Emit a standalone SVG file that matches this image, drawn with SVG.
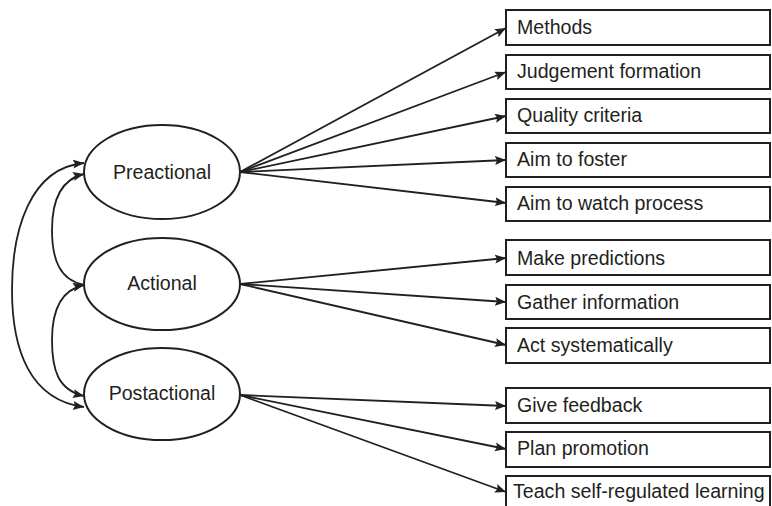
<svg xmlns="http://www.w3.org/2000/svg" width="772" height="506" viewBox="0 0 772 506">
  <style>
    .node ellipse, .node rect { fill: #ffffff; stroke: #231f20; stroke-width: 2; }
    .node text { font-family: "Liberation Sans", Arial, sans-serif; font-size: 19.6px; fill: #231f20; }
    .phase text { text-anchor: middle; }
    .edges path, .edges line { fill: none; stroke: #231f20; stroke-width: 1.8; }
  </style>
  <defs>
    <marker id="head" markerUnits="userSpaceOnUse" markerWidth="12" markerHeight="10" refX="11" refY="4.5" orient="auto-start-reverse">
      <path d="M0,0 L11,4.5 L0,9 L2,4.5 z" fill="#231f20"/>
    </marker>
  </defs>

  <!-- connectors -->
  <g class="edges">
    <!-- links between the three phases -->
    <path d="M84,163 C30,168 12,230 12,290 C12,350 30,400 84,407" marker-start="url(#head)" marker-end="url(#head)"/>
    <path d="M84,174 C58,180 52,205 52,230 C52,260 60,280 84,285" marker-start="url(#head)"/>
    <path d="M84,285 C60,290 52,312 52,340 C52,370 58,390 84,396" marker-start="url(#head)" marker-end="url(#head)"/>

    <!-- Preactional fan -->
    <line x1="240" y1="172" x2="506" y2="28" marker-end="url(#head)"/>
    <line x1="240" y1="172" x2="506" y2="72" marker-end="url(#head)"/>
    <line x1="240" y1="172" x2="506" y2="116" marker-end="url(#head)"/>
    <line x1="240" y1="172" x2="506" y2="160" marker-end="url(#head)"/>
    <line x1="240" y1="172" x2="506" y2="203" marker-end="url(#head)"/>

    <!-- Actional fan -->
    <line x1="240" y1="284" x2="506" y2="258" marker-end="url(#head)"/>
    <line x1="240" y1="284" x2="506" y2="302" marker-end="url(#head)"/>
    <line x1="240" y1="284" x2="506" y2="345" marker-end="url(#head)"/>

    <!-- Postactional fan -->
    <line x1="240" y1="395" x2="506" y2="406" marker-end="url(#head)"/>
    <line x1="240" y1="395" x2="506" y2="449" marker-end="url(#head)"/>
    <line x1="240" y1="395" x2="506" y2="492" marker-end="url(#head)"/>
  </g>

  <!-- phases -->
  <g id="preactional" class="node phase">
    <ellipse cx="162" cy="172" rx="78" ry="47"/>
    <text x="162" y="179">Preactional</text>
  </g>
  <g id="actional" class="node phase">
    <ellipse cx="162" cy="284" rx="78" ry="46"/>
    <text x="162" y="290">Actional</text>
  </g>
  <g id="postactional" class="node phase">
    <ellipse cx="162" cy="394" rx="78" ry="46"/>
    <text x="162" y="400">Postactional</text>
  </g>

  <!-- outcome boxes -->
  <g id="methods" class="node">
    <rect x="506" y="10" width="264" height="35"/>
    <text x="517" y="34">Methods</text>
  </g>
  <g id="judgement-formation" class="node">
    <rect x="506" y="55" width="264" height="34"/>
    <text x="517" y="78">Judgement formation</text>
  </g>
  <g id="quality-criteria" class="node">
    <rect x="506" y="99" width="264" height="34"/>
    <text x="517" y="122">Quality criteria</text>
  </g>
  <g id="aim-to-foster" class="node">
    <rect x="506" y="143" width="264" height="34"/>
    <text x="517" y="166">Aim to foster</text>
  </g>
  <g id="aim-to-watch-process" class="node">
    <rect x="506" y="187" width="264" height="34"/>
    <text x="517" y="210">Aim to watch process</text>
  </g>
  <g id="make-predictions" class="node">
    <rect x="506" y="240" width="264" height="35"/>
    <text x="517" y="265">Make predictions</text>
  </g>
  <g id="gather-information" class="node">
    <rect x="506" y="285" width="264" height="34"/>
    <text x="517" y="309">Gather information</text>
  </g>
  <g id="act-systematically" class="node">
    <rect x="506" y="328" width="264" height="35"/>
    <text x="517" y="352">Act systematically</text>
  </g>
  <g id="give-feedback" class="node">
    <rect x="506" y="388" width="264" height="35"/>
    <text x="517" y="412">Give feedback</text>
  </g>
  <g id="plan-promotion" class="node">
    <rect x="506" y="432" width="264" height="35"/>
    <text x="517" y="455">Plan promotion</text>
  </g>
  <g id="teach-self-regulated-learning" class="node">
    <rect x="506" y="476" width="264" height="40"/>
    <text x="513" y="498">Teach self-regulated learning</text>
  </g>
</svg>
